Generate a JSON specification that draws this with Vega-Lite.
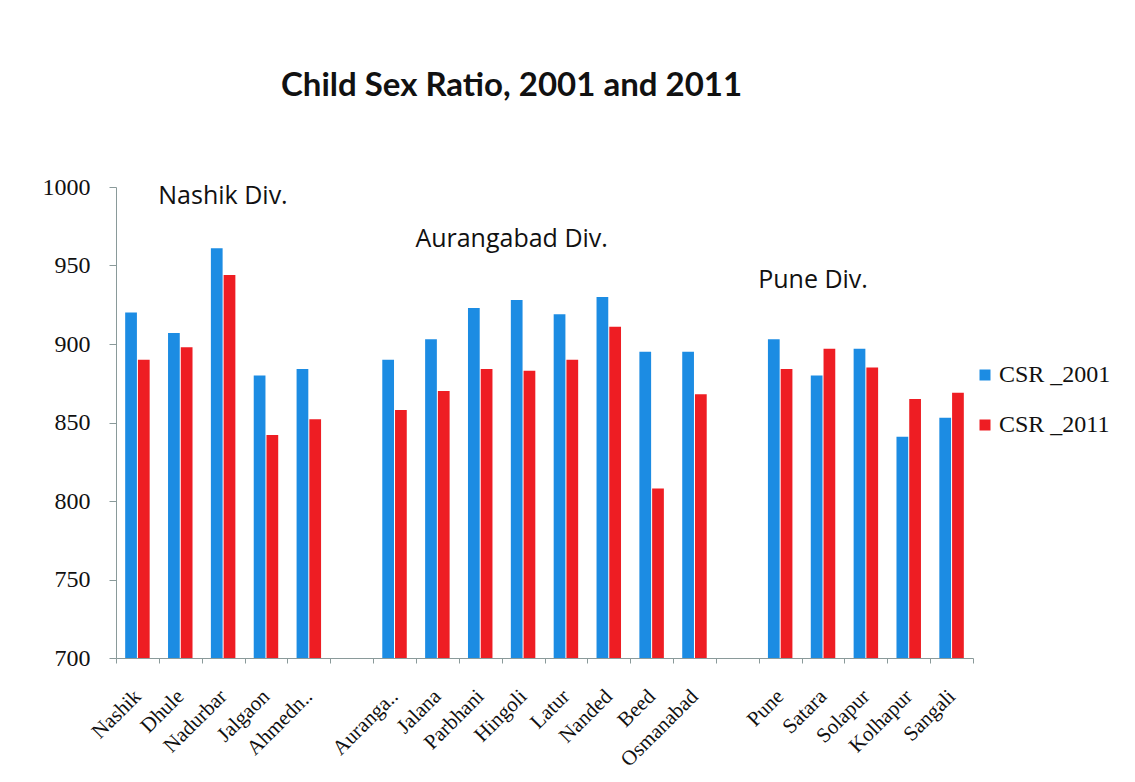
{
  "$schema": "https://vega.github.io/schema/vega-lite/v6.json",
  "autosize": {"type": "none"},
  "width": 857,
  "height": 471,
  "padding": {"left": 116, "top": 187, "right": 162, "bottom": 124},
  "background": "white",
  "config": {"view": {"stroke": null}},
  "title": {
    "text": "Child Sex Ratio, 2001 and 2011",
    "font": "Lato",
    "fontSize": 33,
    "fontWeight": "bold",
    "color": "#111",
    "anchor": "middle",
    "dx": -33,
    "offset": 72
  },
  "datasets": {
    "csr": [
      {"district": "Nashik", "year": "CSR _2001", "csr": 920},
      {"district": "Nashik", "year": "CSR _2011", "csr": 890},
      {"district": "Dhule", "year": "CSR _2001", "csr": 907},
      {"district": "Dhule", "year": "CSR _2011", "csr": 898},
      {"district": "Nadurbar", "year": "CSR _2001", "csr": 961},
      {"district": "Nadurbar", "year": "CSR _2011", "csr": 944},
      {"district": "Jalgaon", "year": "CSR _2001", "csr": 880},
      {"district": "Jalgaon", "year": "CSR _2011", "csr": 842},
      {"district": "Ahmedn..", "year": "CSR _2001", "csr": 884},
      {"district": "Ahmedn..", "year": "CSR _2011", "csr": 852},
      {"district": "Auranga..", "year": "CSR _2001", "csr": 890},
      {"district": "Auranga..", "year": "CSR _2011", "csr": 858},
      {"district": "Jalana", "year": "CSR _2001", "csr": 903},
      {"district": "Jalana", "year": "CSR _2011", "csr": 870},
      {"district": "Parbhani", "year": "CSR _2001", "csr": 923},
      {"district": "Parbhani", "year": "CSR _2011", "csr": 884},
      {"district": "Hingoli", "year": "CSR _2001", "csr": 928},
      {"district": "Hingoli", "year": "CSR _2011", "csr": 883},
      {"district": "Latur", "year": "CSR _2001", "csr": 919},
      {"district": "Latur", "year": "CSR _2011", "csr": 890},
      {"district": "Nanded", "year": "CSR _2001", "csr": 930},
      {"district": "Nanded", "year": "CSR _2011", "csr": 911},
      {"district": "Beed", "year": "CSR _2001", "csr": 895},
      {"district": "Beed", "year": "CSR _2011", "csr": 808},
      {"district": "Osmanabad", "year": "CSR _2001", "csr": 895},
      {"district": "Osmanabad", "year": "CSR _2011", "csr": 868},
      {"district": "Pune", "year": "CSR _2001", "csr": 903},
      {"district": "Pune", "year": "CSR _2011", "csr": 884},
      {"district": "Satara", "year": "CSR _2001", "csr": 880},
      {"district": "Satara", "year": "CSR _2011", "csr": 897},
      {"district": "Solapur", "year": "CSR _2001", "csr": 897},
      {"district": "Solapur", "year": "CSR _2011", "csr": 885},
      {"district": "Kolhapur", "year": "CSR _2001", "csr": 841},
      {"district": "Kolhapur", "year": "CSR _2011", "csr": 865},
      {"district": "Sangali", "year": "CSR _2001", "csr": 853},
      {"district": "Sangali", "year": "CSR _2011", "csr": 869}
    ],
    "divs": [
      {"label": "Nashik Div.", "district": "Dhule", "csr": 994},
      {"label": "Aurangabad Div.", "district": "Jalana", "csr": 967},
      {"label": "Pune Div.", "district": "Pune", "csr": 941}
    ]
  },
  "layer": [
    {
      "data": {"name": "csr"},
      "mark": {"type": "bar", "clip": true},
      "encoding": {
        "x": {
          "field": "district",
          "type": "nominal",
          "sort": null,
          "scale": {
            "domain": ["Nashik", "Dhule", "Nadurbar", "Jalgaon", "Ahmedn..", " ", "Auranga..", "Jalana", "Parbhani", "Hingoli", "Latur", "Nanded", "Beed", "Osmanabad", "  ", "Pune", "Satara", "Solapur", "Kolhapur", "Sangali"],
            "paddingInner": 0,
            "paddingOuter": 0
          },
          "axis": {
            "title": null,
            "tickBand": "extent",
            "labelAngle": -45,
            "labelAlign": "right",
            "labelBaseline": "middle",
            "labelFont": "Liberation Serif",
            "labelFontSize": 21,
            "labelColor": "#111",
            "labelPadding": 30,
            "domainColor": "#8a9a9a",
            "tickColor": "#8a9a9a",
            "tickSize": 5,
            "labelOverlap": false
          }
        },
        "xOffset": {
          "field": "year",
          "type": "nominal",
          "scale": {"paddingOuter": 0.72, "paddingInner": 0.08}
        },
        "y": {
          "field": "csr",
          "type": "quantitative",
          "scale": {"domain": [700, 1000], "zero": false},
          "axis": {
            "title": null,
            "values": [700, 750, 800, 850, 900, 950, 1000],
            "format": "d",
            "grid": false,
            "labelFont": "Liberation Serif",
            "labelFontSize": 24,
            "labelColor": "#111",
            "labelPadding": 19,
            "domainColor": "#8a9a9a",
            "tickColor": "#8a9a9a",
            "tickSize": 7
          }
        },
        "color": {
          "field": "year",
          "type": "nominal",
          "scale": {"domain": ["CSR _2001", "CSR _2011"], "range": ["#1c8ce3", "#ee1d23"]},
          "legend": {
            "title": null,
            "orient": "none",
            "legendX": 857,
            "legendY": 176,
            "symbolType": "square",
            "symbolSize": 121,
            "symbolStrokeWidth": 0,
            "labelFont": "Liberation Serif",
            "labelFontSize": 24,
            "labelColor": "#111",
            "rowPadding": 26,
            "labelOffset": 2
          }
        }
      }
    },
    {
      "data": {"name": "divs"},
      "mark": {"type": "text", "font": "Open Sans", "fontSize": 25, "color": "#111", "align": "left", "baseline": "middle", "dx": -22},
      "encoding": {
        "x": {"field": "district", "type": "nominal", "sort": null},
        "y": {"field": "csr", "type": "quantitative"},
        "text": {"field": "label"}
      }
    }
  ],
  "resolve": {"scale": {"x": "shared"}}
}
